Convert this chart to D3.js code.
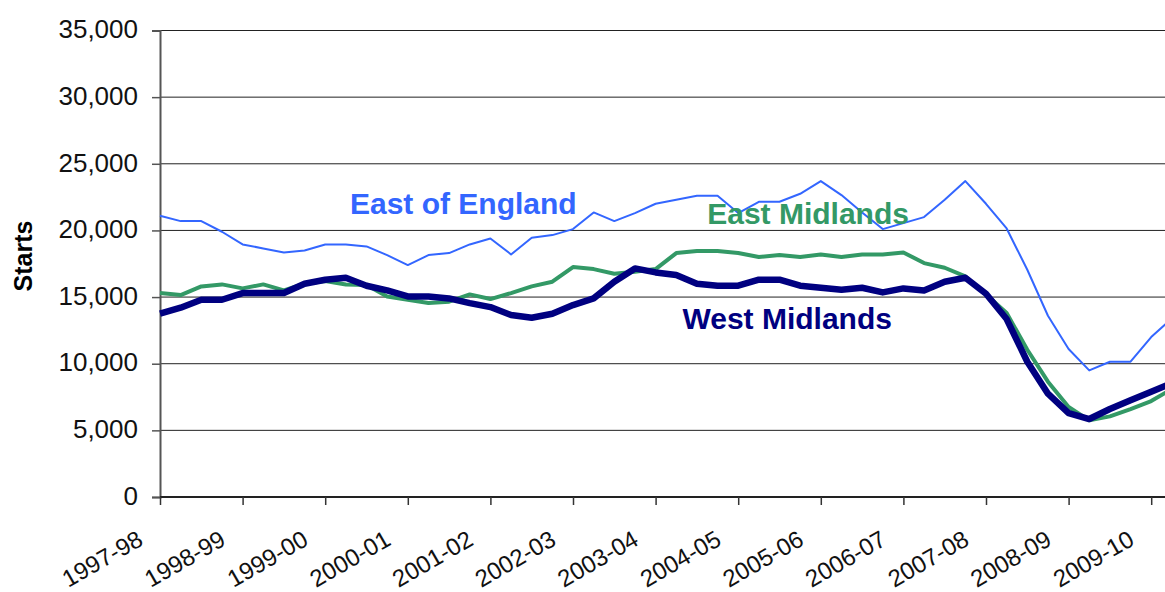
<!DOCTYPE html>
<html>
<head>
<meta charset="utf-8">
<script src="https://cdn.jsdelivr.net/npm/d3@7"></script>
<style>
  body { margin: 0; background: #fff; }
  svg { display: block; font-family: Arial, "Liberation Sans", sans-serif; }
</style>
</head>
<body>
<script>
// financial years shown on the axis, data is quarterly
var years = ["1997-98","1998-99","1999-00","2000-01","2001-02","2002-03","2003-04",
             "2004-05","2005-06","2006-07","2007-08","2008-09","2009-10"];

var eastOfEngland = [21100,20700,20700,19900,18950,18650,18350,18500,18950,18950,
                     18800,18150,17400,18150,18300,18950,19400,18200,19450,19650,
                     20100,21350,20700,21300,22000,22300,22600,22600,21300,22150,
                     22150,22750,23700,22650,21350,20100,20550,21000,22300,23700,
                     22000,20150,17050,13600,11100,9500,10150,10150,12000,13400];

var eastMidlands = [15300,15150,15800,15950,15650,15950,15500,16000,16200,15950,
                    15900,15050,14800,14550,14650,15200,14850,15300,15800,16150,
                    17250,17100,16750,16900,17100,18300,18450,18450,18300,18000,
                    18150,18000,18200,18000,18200,18200,18350,17550,17200,16550,
                    15200,13800,11050,8650,6750,5750,6050,6600,7200,8100];

var westMidlands = [13750,14200,14800,14800,15300,15300,15300,16000,16300,16450,
                    15850,15500,15050,15050,14900,14550,14250,13650,13450,13750,
                    14400,14900,16150,17150,16850,16650,16000,15850,15850,16300,
                    16300,15850,15700,15550,15700,15350,15650,15500,16150,16450,
                    15250,13350,10150,7750,6300,5850,6600,7250,7900,8550];

var yTicks = [0,5000,10000,15000,20000,25000,30000,35000];

// series names, colours, widths and where the label sits (quarter index, value)
var seriesNames  = ["East of England","East Midlands","West Midlands"];
var seriesColors = ["#3366ff","#339966","#000080"];
var seriesWidths = [2,4,6.5];
var labelAt      = [[9.2,21250],[26.5,20500],[25.3,12600]];

var W = 1165, H = 592;
var plotLeft = 160, plotTop = 30.5, plotBottom = 497;
var step = 20.65;

var quarters = [];
years.forEach(function(y){
  [1,2,3,4].forEach(function(q){ quarters.push(y + " Q" + q); });
});
quarters = quarters.slice(0, eastOfEngland.length);

var svg = d3.select("body").append("svg")
  .attr("width", W).attr("height", H);

var x = d3.scalePoint()
  .domain(quarters)
  .range([plotLeft, plotLeft + step*(quarters.length-1)]);

var y = d3.scaleLinear().domain([0,35000]).range([plotBottom, plotTop]);

// gridlines
svg.append("g")
  .selectAll("line")
  .data(yTicks.filter(function(d){ return d > 0; }))
  .enter().append("line")
  .attr("x1", plotLeft).attr("x2", W)
  .attr("y1", function(d){ return y(d); })
  .attr("y2", function(d){ return y(d); })
  .attr("stroke", "#222")
  .attr("stroke-width", 1);

// y axis
var gy = svg.append("g")
  .attr("transform", "translate(" + plotLeft + ",0)")
  .call(d3.axisLeft(y).tickValues(yTicks).tickSize(8).tickPadding(14).tickFormat(d3.format(",")));
gy.select(".domain").attr("stroke", "#555").attr("stroke-width", 2);
gy.selectAll(".tick line").attr("stroke", "#555").attr("stroke-width", 1.5);
gy.selectAll(".tick text")
  .attr("font-size", 26)
  .attr("fill", "#111")
  .attr("dy", "0.28em")
  .style("font-family", "Arial, 'Liberation Sans', sans-serif");

// x axis
var gx = svg.append("g")
  .attr("transform", "translate(0," + plotBottom + ")")
  .call(d3.axisBottom(x)
    .tickValues(quarters.filter(function(q){ return q.slice(-2) == "Q1"; }))
    .tickSize(8)
    .tickFormat(function(q){ return q.slice(0,7); }));
gx.select(".domain").attr("stroke", "#222").attr("stroke-width", 2).attr("d", "M" + plotLeft + ",0H" + W);
gx.selectAll(".tick line").attr("stroke", "#333").attr("stroke-width", 1.5);
gx.selectAll(".tick text")
  .attr("x", 0).attr("y", 0).attr("dy", 0)
  .attr("transform", "translate(-16,47) rotate(-30)")
  .attr("text-anchor", "end")
  .attr("font-size", 24)
  .attr("fill", "#111")
  .style("font-family", "Arial, 'Liberation Sans', sans-serif");

// axis title
svg.append("text")
  .attr("transform", "translate(32,256) rotate(-90)")
  .attr("text-anchor", "middle")
  .attr("font-size", 25)
  .attr("font-weight", "bold")
  .attr("fill", "#000")
  .text("Starts");

// lines
var series = [eastOfEngland, eastMidlands, westMidlands];
var line = d3.line()
  .x(function(d,i){ return x(quarters[i]); })
  .y(function(d){ return y(d); });

series.forEach(function(s, k){
  svg.append("path")
    .datum(s)
    .attr("fill", "none")
    .attr("stroke", seriesColors[k])
    .attr("stroke-width", seriesWidths[k])
    .attr("stroke-linejoin", "round")
    .attr("d", line);
});

// series labels
seriesNames.forEach(function(n, k){
  svg.append("text")
    .attr("x", plotLeft + step*labelAt[k][0])
    .attr("y", y(labelAt[k][1]))
    .attr("font-size", 30)
    .attr("font-weight", "bold")
    .attr("fill", seriesColors[k])
    .text(n);
});
</script>
</body>
</html>
